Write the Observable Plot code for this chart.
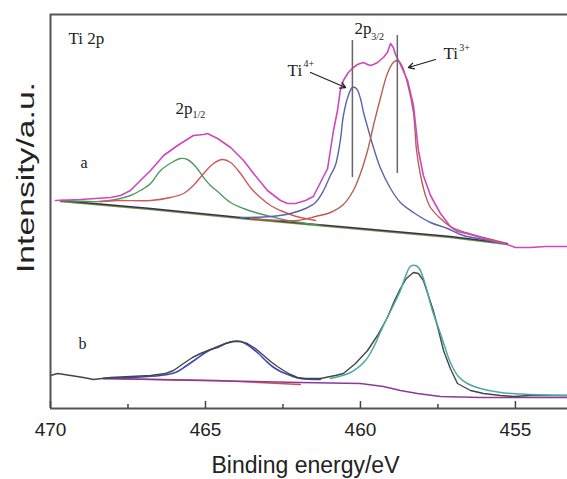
<!DOCTYPE html>
<html><head><meta charset="utf-8">
<script src="https://cdn.jsdelivr.net/npm/d3@7"></script>
<script src="https://cdn.jsdelivr.net/npm/@observablehq/plot@0.6"></script>
<style>body{margin:0;background:#fff}#chart svg{display:block}</style>
</head><body><div id="chart"></div>
<script>
// [binding energy (eV), intensity (a.u.)]
const envA = [[469.84,208],[469.03,209],[468.06,211],[467.74,213],[467.42,218],[467.10,228],[466.77,238],[466.35,253],[465.90,263],[465.39,273],[465.06,274],[464.94,275],[464.61,270],[464.19,261],[463.77,248],[463.45,235],[463.00,218],[462.58,208],[462.35,205],[462.10,205],[461.77,208],[461.52,212],[461.29,226],[461.06,240],[460.97,258],[460.87,278],[460.74,298],[460.65,318],[460.55,328],[460.39,336],[460.23,341],[460.10,344],[459.90,346],[459.77,344],[459.68,343],[459.58,344],[459.45,346],[459.26,351],[459.13,356],[459.03,365],[458.94,361],[458.87,354],[458.71,344],[458.48,328],[458.29,303],[458.13,258],[457.97,233],[457.74,213],[457.42,195],[457.10,182],[456.87,177],[456.45,174],[456.13,171],[455.65,167],[455.26,164],[455.00,161],[454.52,161],[454.03,162],[453.32,162]];
const ti4A_half = [[469.61,208],[468.39,207],[467.90,209],[467.42,213],[467.10,218],[466.77,225],[466.45,238],[466.03,247],[465.81,250],[465.58,249],[465.32,242],[465.06,231],[464.84,223],[464.61,217],[464.19,206],[463.77,200],[463.39,196],[462.90,192],[462.35,188],[461.94,186],[461.29,183]];
const ti3A_half = [[468.39,207],[467.84,208],[466.77,208],[466.13,211],[465.71,215],[465.39,223],[465.06,235],[464.74,245],[464.45,249],[464.19,246],[463.87,235],[463.55,221],[463.23,211],[462.90,203],[462.58,198],[462.26,194],[461.94,191],[461.45,188]];
const ti4A_3half = [[463.87,191],[462.90,192],[462.26,195],[461.77,200],[461.45,206],[461.19,218],[460.97,233],[460.81,243],[460.65,268],[460.55,293],[460.39,313],[460.26,321],[460.13,320],[460.00,310],[459.90,296],[459.74,278],[459.58,261],[459.35,240],[459.03,220],[458.71,206],[458.29,196],[457.74,186],[457.19,180],[456.68,173],[456.03,169],[455.39,165]];
const ti3A_3half = [[463.55,190],[462.58,188],[462.03,188],[461.45,192],[460.97,196],[460.55,204],[460.23,218],[460.00,235],[459.77,258],[459.58,283],[459.35,311],[459.13,335],[458.94,346],[458.81,348],[458.68,344],[458.48,325],[458.29,296],[458.19,258],[458.06,233],[457.90,213],[457.74,201],[457.42,190],[457.10,182],[456.61,176],[456.03,171],[455.39,166]];
const baseA = [[469.68,208],[466.77,200],[463.55,190],[460.32,181],[457.10,172],[455.26,165]];
const baseA2 = [[469.68,207],[466.77,199],[463.55,189],[460.32,180],[457.10,171],[455.26,164]];

const rawB = [[470.00,33],[469.77,35],[469.35,33],[468.94,31],[468.61,29],[468.06,31],[467.42,32],[466.77,33],[466.29,35],[466.03,38],[465.71,45],[465.42,51],[465.16,55],[464.84,59],[464.61,61],[464.35,65],[464.10,67],[463.87,67],[463.65,65],[463.39,60],[463.16,54],[462.90,47],[462.68,42],[462.48,38],[462.26,34],[462.03,31],[461.77,30],[461.29,30],[460.81,33],[460.55,35],[460.16,45],[459.77,58],[459.45,73],[459.13,91],[458.90,108],[458.71,120],[458.52,130],[458.29,136],[458.13,135],[457.97,128],[457.81,113],[457.65,98],[457.48,78],[457.32,58],[457.10,40],[456.87,25],[456.45,18],[456.03,15],[455.48,13],[455.06,12],[454.52,13],[453.87,13],[453.32,13]];
const fitB_3half = [[460.97,30],[460.32,36],[459.84,48],[459.58,61],[459.26,83],[458.94,103],[458.71,118],[458.55,132],[458.39,142],[458.23,143],[458.10,140],[457.90,123],[457.68,98],[457.42,75],[457.26,60],[457.10,46],[456.84,32],[456.55,25],[456.13,20],[455.48,16],[454.52,14],[453.32,13]];
const fitB_half = [[468.29,30],[467.42,31],[466.45,33],[465.97,36],[465.65,42],[465.32,49],[465.00,56],[464.68,61],[464.35,65],[464.13,67],[463.87,67],[463.61,63],[463.29,55],[463.06,48],[462.84,42],[462.58,37],[462.26,33],[461.94,30],[461.29,29]];
const baseB = [[468.29,30],[465.16,28],[461.94,26],[460.00,25],[459.26,22],[458.71,18],[458.16,15],[457.42,12],[456.13,11],[453.32,11]];
const baseB2 = [[468.29,30],[464.61,28],[461.94,24]];

const majorTicks = [470, 465, 460, 455];
const minorTicks = [467.5, 462.5, 457.5];
const markerLines = [{e: 460.26, lo: 231, hi: 368}, {e: 458.81, lo: 235, hi: 373}];
const arrowsData = [{e1: 461.61, i1: 336, e2: 460.48, i2: 321}, {e1: 457.58, i1: 349, e2: 458.45, i2: 341}];
const labels = [
  {e: 469.42, i: 365, t: "Ti 2p", s: 17},
  {e: 469.03, i: 241, t: "a", s: 16},
  {e: 469.10, i: 60, t: "b", s: 16},
  {e: 465.97, i: 295, t: "2p", s: 17},
  {e: 465.42, i: 291, t: "1/2", s: 10},
  {e: 462.35, i: 333, t: "Ti", s: 17},
  {e: 461.84, i: 342, t: "4+", s: 10},
  {e: 460.19, i: 375, t: "2p", s: 17},
  {e: 459.65, i: 369, t: "3/2", s: 10},
  {e: 457.32, i: 350, t: "Ti", s: 17},
  {e: 456.81, i: 358, t: "3+", s: 10}
];
const xLabel = "Binding energy/eV";
const yLabel = "Intensity/a.u.";

const sans = "Liberation Sans, Arial, sans-serif";
const serif = "Liberation Serif, Times New Roman, serif";
const X = d => d[0], Y = d => d[1];
const ln = (data, stroke, w = 1.4, curve = "catmull-rom") => Plot.line(data, {x: X, y: Y, stroke, strokeWidth: w, curve});

const chart = Plot.plot({
  width: 567, height: 479,
  marginLeft: 50, marginRight: 0, marginTop: 14, marginBottom: 71,
  style: {background: "#fff"},
  x: {domain: [470, 453.32], axis: null},
  y: {domain: [0, 394], axis: null},
  marks: [
    ln(baseA2, "#6a9a40", 1.4, "linear"),
    ln(baseA, "#3a2f55", 1.3, "linear"),
    ln(ti4A_half, "#4f9a5c"),
    ln(ti3A_half, "#d0585a"),
    ln(ti4A_3half, "#5a64a8"),
    ln(ti3A_3half, "#b4624e"),
    ln(envA, "#cc48bc", 1.6, "linear"),
    ln(baseB2, "#d05050", 1.3, "linear"),
    ln(baseB, "#8a3a9a", 1.5, "linear"),
    ln(fitB_half, "#3848c0", 1.6),
    ln(rawB, "#454545", 1.4, "linear"),
    ln(fitB_3half, "#48a8a8", 1.5),
    Plot.ruleX(markerLines, {x: d => d.e, y1: d => d.lo, y2: d => d.hi, stroke: "#666", strokeWidth: 1.5}),
    Plot.arrow(arrowsData, {x1: d => d.e1, y1: d => d.i1, x2: d => d.e2, y2: d => d.i2, stroke: "#222", strokeWidth: 1.3, headLength: 7}),
    Plot.text(labels, {x: d => d.e, y: d => d.i, text: d => d.t, fontSize: d => d.s, textAnchor: "start", lineAnchor: "bottom", fontFamily: serif, fill: "#222"}),
    Plot.ruleX([470], {stroke: "#555", strokeWidth: 2}),
    Plot.ruleY([0, 394], {stroke: "#555", strokeWidth: 2}),
    Plot.ruleX(majorTicks, {x: d => d, y1: 0, y2: 7, stroke: "#444", strokeWidth: 1.5}),
    Plot.ruleX(minorTicks, {x: d => d, y1: 0, y2: 4, stroke: "#444", strokeWidth: 1.5}),
    Plot.text(majorTicks, {x: d => d, y: 0, dy: 27, text: d => String(d), fontSize: 19, fontFamily: sans, fill: "#222", lineAnchor: "bottom"}),
    Plot.text([xLabel], {frameAnchor: "bottom", dx: -3.5, dy: 64, text: d => d, fontSize: 23, fontFamily: sans, fill: "#222", lineAnchor: "bottom"})
  ]
});
document.getElementById("chart").appendChild(chart);
d3.select(chart).append("text")
  .attr("transform", "translate(34,273) rotate(-90)")
  .attr("text-anchor", "start")
  .attr("textLength", 191).attr("lengthAdjust", "spacingAndGlyphs")
  .attr("font-family", sans).attr("font-size", 23).attr("fill", "#222")
  .text(yLabel);
</script>
</body></html>
